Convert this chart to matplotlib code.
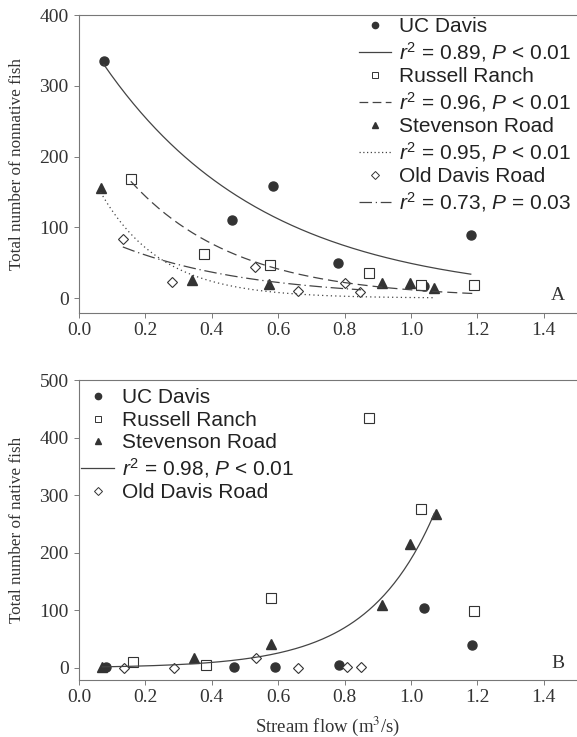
import numpy as np
import matplotlib
matplotlib.use("Agg")
import matplotlib.pyplot as plt
from matplotlib.lines import Line2D

plt.rcParams["font.family"] = ["Liberation Serif", "DejaVu Serif"]
plt.rcParams["mathtext.fontset"] = "custom"
plt.rcParams["mathtext.rm"] = "Liberation Sans"
plt.rcParams["mathtext.it"] = "Liberation Sans:italic"

# ---------------- data: panel A (nonnative fish) ----------------
ucd_x_a = [0.075, 0.46, 0.585, 0.78, 1.04, 1.18]
ucd_y_a = [335, 110, 158, 49, 17, 89]
rr_x_a = [0.156, 0.378, 0.574, 0.872, 1.03, 1.19]
rr_y_a = [169, 62, 47, 35, 18, 18]
sr_x_a = [0.065, 0.34, 0.571, 0.912, 0.996, 1.07]
sr_y_a = [155, 25, 20, 22, 22, 14]
odr_x_a = [0.132, 0.28, 0.53, 0.66, 0.80, 0.845]
odr_y_a = [83, 23, 44, 10, 21, 8]

# exponential fits y = a * exp(b * x) (a, b, x start, x end)
fit_a = {
    "ucd": (385, -2.06, 0.075, 1.18),
    "rr": (269, -3.13, 0.156, 1.19),
    "sr": (214, -5.5, 0.065, 1.07),
    "odr": (101, -2.53, 0.132, 0.85),
}
r2_labels_a = [
    r"$r^2$ = 0.89, $P$ < 0.01",
    r"$r^2$ = 0.96, $P$ < 0.01",
    r"$r^2$ = 0.95, $P$ < 0.01",
    r"$r^2$ = 0.73, $P$ = 0.03",
]

# ---------------- data: panel B (native fish) ----------------
ucd_x_b = [0.08, 0.466, 0.59, 0.784, 1.04, 1.185]
ucd_y_b = [2, 2, 2, 5, 104, 40]
rr_x_b = [0.162, 0.382, 0.577, 0.872, 1.03, 1.19]
rr_y_b = [10, 5, 122, 434, 276, 99]
sr_x_b = [0.07, 0.346, 0.577, 0.914, 0.996, 1.074]
sr_y_b = [2, 18, 41, 110, 216, 268]
odr_x_b = [0.135, 0.285, 0.532, 0.66, 0.806, 0.85]
odr_y_b = [0, 0, 17, 0, 1, 1]
fit_b = (1.3, 4.98, 0.07, 1.07)
r2_label_b = r"$r^2$ = 0.98, $P$ < 0.01"

dark = "#333333"
line_c = "#444444"
msize = 6.5
leg_font = {"family": "Liberation Sans", "size": 15}


def fit_curve(ax, params, ls):
    a, b, x0, x1 = params
    xs = np.linspace(x0, x1, 200)
    ax.plot(xs, a * np.exp(b * xs), color=line_c, lw=0.9, ls=ls)


def style_axes(ax, ymax, ylabel, letter):
    ax.set_xlim(0, 1.5)
    ax.set_ylim(-21, ymax)
    ax.set_xticks([0.0, 0.2, 0.4, 0.6, 0.8, 1.0, 1.2, 1.4])
    ax.set_xticklabels(["0.0", "0.2", "0.4", "0.6", "0.8", "1.0", "1.2", "1.4"])
    ax.set_yticks(np.arange(0, ymax + 1, 100))
    ax.tick_params(labelsize=14, length=3.5, width=0.6, colors="#666666",
                   labelcolor="#333333", pad=3)
    ax.tick_params(axis="y", pad=4)
    ax.spines["right"].set_visible(False)
    for s in ["left", "bottom", "top"]:
        ax.spines[s].set_color("#777777")
        ax.spines[s].set_linewidth(0.8)
    ax.set_ylabel(ylabel, fontsize=12.3, color="#333333")
    ax.yaxis.set_label_coords(-0.108, 0.5)
    ax.text(0.962, 0.06 if letter == "A" else 0.055, letter, transform=ax.transAxes,
            fontsize=14, color="#333333", ha="center", va="center")


fig = plt.figure(figsize=(5.77, 7.37), dpi=100)
ax1 = fig.add_axes([79 / 577, 1 - 313 / 737, 498 / 577, 298 / 737])
ax2 = fig.add_axes([79 / 577, 1 - 680 / 737, 498 / 577, 300 / 737])

# ---------------- panel A ----------------
ax1.plot(ucd_x_a, ucd_y_a, "o", color=dark, ms=msize, ls="none")
ax1.plot(rr_x_a, rr_y_a, "s", mfc="white", mec=dark, mew=0.8, ms=msize, ls="none")
ax1.plot(sr_x_a, sr_y_a, "^", color=dark, ms=msize, ls="none")
ax1.plot(odr_x_a, odr_y_a, "D", mfc="white", mec=dark, mew=0.8, ms=msize - 1, ls="none")
fit_curve(ax1, fit_a["ucd"], "-")
fit_curve(ax1, fit_a["rr"], (0, (8, 4)))
fit_curve(ax1, fit_a["sr"], (0, (1, 2.5)))
fit_curve(ax1, fit_a["odr"], (0, (10, 3, 1, 3)))
style_axes(ax1, 400, "Total number of nonnative fish", "A")

hs = [
    Line2D([], [], marker="o", color=dark, ls="none", ms=4.5),
    Line2D([], [], color=line_c, lw=0.9, ls="-"),
    Line2D([], [], marker="s", mfc="white", mec=dark, mew=0.7, ls="none", ms=4.5),
    Line2D([], [], color=line_c, lw=0.9, ls=(0, (7, 3.5))),
    Line2D([], [], marker="^", color=dark, ls="none", ms=4.5),
    Line2D([], [], color=line_c, lw=0.9, ls=(0, (1, 2))),
    Line2D([], [], marker="D", mfc="white", mec=dark, mew=0.7, ls="none", ms=4),
    Line2D([], [], color=line_c, lw=0.9, ls=(0, (10, 3, 1, 3))),
]
labs = ["UC Davis", r2_labels_a[0], "Russell Ranch", r2_labels_a[1],
        "Stevenson Road", r2_labels_a[2], "Old Davis Road", r2_labels_a[3]]
leg1 = ax1.legend(hs, labs, loc="upper right", bbox_to_anchor=(1.005, 1.02),
                  frameon=False, handlelength=1.5, handletextpad=0.4,
                  labelspacing=0.17, borderaxespad=0.0, prop=leg_font)
for t in leg1.get_texts():
    t.set_color("#222222")

# ---------------- panel B ----------------
ax2.plot(ucd_x_b, ucd_y_b, "o", color=dark, ms=msize, ls="none")
ax2.plot(rr_x_b, rr_y_b, "s", mfc="white", mec=dark, mew=0.8, ms=msize, ls="none")
ax2.plot(sr_x_b, sr_y_b, "^", color=dark, ms=msize, ls="none")
ax2.plot(odr_x_b, odr_y_b, "D", mfc="white", mec=dark, mew=0.8, ms=msize - 1, ls="none")
fit_curve(ax2, fit_b, "-")
style_axes(ax2, 500, "Total number of native fish", "B")
ax2.set_xlabel("Stream flow (m$^{3}$/s)", fontsize=13.5, color="#333333",
               labelpad=6, math_fontfamily="stix")

hs2 = [
    Line2D([], [], marker="o", color=dark, ls="none", ms=4.5),
    Line2D([], [], marker="s", mfc="white", mec=dark, mew=0.7, ls="none", ms=4.5),
    Line2D([], [], marker="^", color=dark, ls="none", ms=4.5),
    Line2D([], [], color=line_c, lw=0.9, ls="-"),
    Line2D([], [], marker="D", mfc="white", mec=dark, mew=0.7, ls="none", ms=4),
]
labs2 = ["UC Davis", "Russell Ranch", "Stevenson Road", r2_label_b, "Old Davis Road"]
leg2 = ax2.legend(hs2, labs2, loc="upper left", bbox_to_anchor=(-0.012, 1.0),
                  frameon=False, handlelength=1.55, handletextpad=0.4,
                  labelspacing=0.17, borderaxespad=0.0, prop=leg_font)
for t in leg2.get_texts():
    t.set_color("#222222")

fig.savefig("out.png", dpi=100)
